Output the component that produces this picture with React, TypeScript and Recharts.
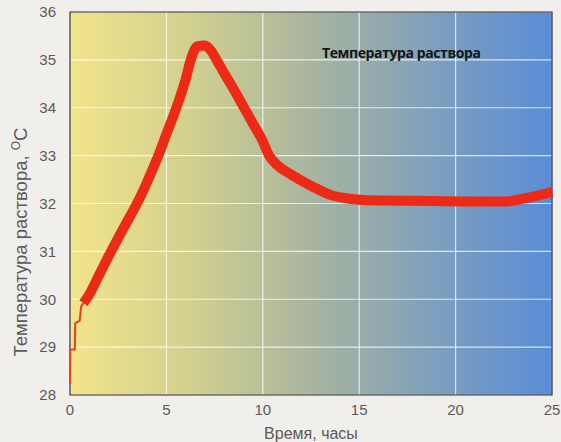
import {
  CartesianGrid,
  Line,
  LineChart,
  ReferenceArea,
  XAxis,
  YAxis,
} from "recharts";

// hours since start, solution temperature (°C)
const startHours = [0, 0.01, 0.25, 0.27, 0.5, 0.58, 0.7];
const startTemps = [28.25, 28.95, 28.95, 29.5, 29.55, 29.85, 29.92];

const mainHours = [
  0.7, 1.0, 1.5, 2.0, 2.5, 3.0, 3.5, 4.0, 4.5, 5.0, 5.5, 6.0, 6.3, 6.6, 7.0,
  7.3, 7.6, 8.0, 8.5, 9.0, 9.5, 10.0, 10.3, 10.7, 11.4, 12.0, 12.6, 13.5, 14.5,
  15.5, 17, 19, 21, 22.6, 23.5, 24.3, 25,
];
const mainTemps = [
  29.92, 30.1, 30.5, 30.9, 31.28, 31.65, 32.02, 32.45, 32.92, 33.45, 33.98,
  34.6, 35.05, 35.28, 35.3, 35.2, 35.0, 34.72, 34.38, 34.02, 33.66, 33.3,
  33.02, 32.82, 32.62, 32.48, 32.35, 32.18, 32.1, 32.07, 32.06, 32.05, 32.04,
  32.04, 32.1, 32.17, 32.24,
];

const xTicks = [0, 5, 10, 15, 20, 25];
const yTicks = [28, 29, 30, 31, 32, 33, 34, 35, 36];

const rows = [
  ...startHours.map((h, i) => ({ h, start: startTemps[i] })),
  ...mainHours.map((h, i) => ({ h, main: mainTemps[i] })),
];

const textColor = "#5a5a58";

function YLabel() {
  return (
    <text
      transform="translate(27, 242) rotate(-90)"
      textAnchor="middle"
      fill={textColor}
      fontSize={18.5}
      fontFamily="Liberation Sans, Arial, sans-serif"
    >
      Температура раствора,{" "}
      <tspan fontSize={12} dy={-7}>
        O
      </tspan>
      <tspan dy={7}>C</tspan>
    </text>
  );
}

function XLabel() {
  return (
    <text
      x={311}
      y={439}
      textAnchor="middle"
      fill={textColor}
      fontSize={16}
      fontFamily="Liberation Sans, Arial, sans-serif"
    >
      Время, часы
    </text>
  );
}

function TitleLabel() {
  return (
    <text
      x={322}
      y={58}
      fill="#151515"
      fontSize={14}
      fontWeight={700}
      letterSpacing={-0.4}
      fontFamily="Open Sans, sans-serif"
    >
      Температура раствора
    </text>
  );
}

export default function App() {
  const tickStyle = {
    fill: textColor,
    fontSize: 15,
    fontFamily: "Liberation Sans, Arial, sans-serif",
  };

  return (
    <div
      style={{
        position: "absolute",
        left: 0,
        top: 0,
        width: 561,
        height: 442,
        background: "#f1efeb",
      }}
    >
      <LineChart
        width={561}
        height={442}
        data={rows}
        margin={{ top: 12, right: 9, left: 0, bottom: 0 }}
      >
        <defs>
          <linearGradient id="plotBg" x1="0" y1="0" x2="1" y2="0">
            <stop offset="0%" stopColor="#f2e48a" />
            <stop offset="25%" stopColor="#d2d08f" />
            <stop offset="50%" stopColor="#a8b59f" />
            <stop offset="75%" stopColor="#7fa0bc" />
            <stop offset="100%" stopColor="#5a8dd6" />
          </linearGradient>
        </defs>
        <CartesianGrid
          fill="url(#plotBg)"
          stroke="#ffffff"
          strokeOpacity={0.75}
          strokeWidth={1.2}
        />
        <XAxis
          dataKey="h"
          type="number"
          domain={[0, 25]}
          ticks={xTicks}
          height={47}
          tickLine={false}
          axisLine={false}
          tickSize={0}
          tickMargin={9}
          tick={tickStyle}
          label={<XLabel />}
        />
        <YAxis
          type="number"
          domain={[28, 36]}
          ticks={yTicks}
          width={70}
          tickLine={false}
          axisLine={false}
          tickSize={0}
          tickMargin={14}
          tick={tickStyle}
          label={<YLabel />}
        />
        <ReferenceArea
          x1={0}
          x2={25}
          y1={28}
          y2={36}
          fill="none"
          stroke="#2b2b2b"
          strokeWidth={1.2}
          label={<TitleLabel />}
        />
        <Line
          dataKey="start"
          type="linear"
          stroke="#e8401f"
          strokeWidth={2}
          dot={false}
          connectNulls={false}
          isAnimationActive={false}
        />
        <Line
          dataKey="main"
          type="monotone"
          stroke="#ec2a16"
          strokeWidth={10}
          strokeLinejoin="round"
          dot={false}
          connectNulls={false}
          isAnimationActive={false}
        />
      </LineChart>
    </div>
  );
}
